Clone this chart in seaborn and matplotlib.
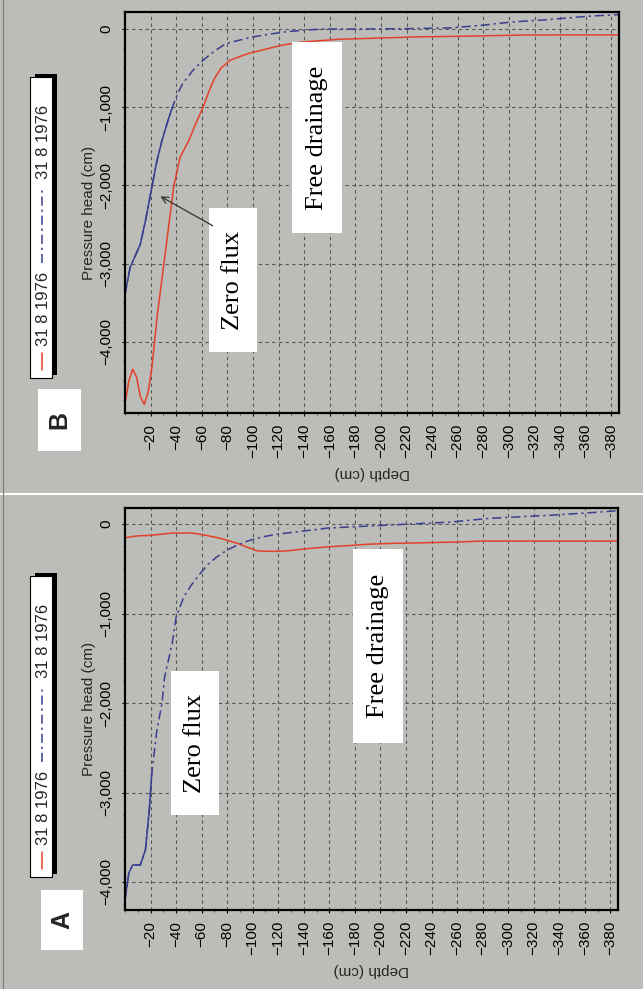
import matplotlib
matplotlib.use("Agg")
import matplotlib.pyplot as plt
import seaborn as sns
from matplotlib.patches import Rectangle, FancyArrowPatch
from matplotlib.lines import Line2D
from matplotlib.ticker import FuncFormatter, MultipleLocator

sns.set_theme(style="ticks")
plt.rcParams['font.family'] = ['Liberation Sans', 'DejaVu Sans']

# --- data (depth in cm, pressure head in cm) ---
legend_labels = ["31 8 1976", "31 8 1976"]
depth_ticks = [-20, -40, -60, -80, -100, -120, -140, -160, -180, -200, -220, -240,
               -260, -280, -300, -320, -340, -360, -380]
head_ticks = [0, -1000, -2000, -3000, -4000]

# panel B (top)
b_red_depth = [0, -3, -6, -9, -12, -15, -18, -21, -25, -30, -35, -38, -43, -50, -55, -61,
               -66, -70, -75, -82, -90, -97, -113, -123, -139, -168, -200, -229, -270,
               -311, -340, -386]
b_red_head = [-4790, -4500, -4350, -4450, -4700, -4800, -4650, -4330, -3690, -3050, -2410,
              -2020, -1640, -1420, -1220, -1000, -780, -630, -500, -400, -350, -310, -245,
              -205, -165, -130, -115, -100, -90, -77, -75, -75]
b_blue_depth = [0, -4, -8, -12, -16, -21, -25, -29, -33, -37, -41, -45, -53, -61, -70, -79,
                -90, -100, -113, -126, -140, -154, -180, -220, -255, -280, -302, -330, -363,
                -386]
b_blue_head = [-3390, -3050, -2900, -2750, -2450, -2020, -1680, -1420, -1200, -1000, -830,
               -700, -530, -400, -280, -185, -140, -100, -65, -35, -15, 0, 0, 5, 15, 50, 90,
               120, 165, 185]

# panel A (bottom)
a_red_depth = [0, -8, -20, -37, -53, -65, -75, -88, -96, -104, -115, -126, -136, -146, -158,
               -175, -190, -210, -229, -260, -280, -330, -386]
a_red_head = [-153, -134, -125, -100, -100, -130, -160, -215, -260, -300, -305, -300, -285,
              -270, -255, -240, -225, -215, -210, -200, -190, -190, -190]
a_blue_depth = [0, -3, -6, -12, -16, -19, -21, -25, -29, -31, -37, -40, -46, -52, -59, -65,
                -72, -80, -88, -97, -107, -120, -133, -158, -190, -222, -254, -286, -334,
                -362, -386]
a_blue_head = [-4200, -3900, -3810, -3810, -3640, -3200, -2780, -2300, -2000, -1710, -1330,
               -1040, -815, -680, -550, -450, -365, -290, -235, -185, -145, -110, -90, -45,
               -22, 0, 22, 65, 100, 125, 150]

W, H = 643, 989
BG = '#bcbcb8'
RED = '#e4402a'
BLUE = '#3b3f8f'
DASHDOT = (0, (6, 2.5, 1.5, 2.5))


def fx(px):
    return px / W


def fy(py):
    return 1 - py / H


def head_fmt(v, pos):
    if v == 0:
        return '0'
    return f"{v:,.0f}".replace('-', '\u2212')


def depth_fmt(v, pos):
    return f"{v:.0f}".replace('-', '\u2212')


def draw_panel(ax, red_d, red_h, blue_d, blue_h, n_solid, ylim, ax_w, ax_h):
    ax.set_facecolor('none')
    sns.lineplot(x=red_d, y=red_h, ax=ax, color=RED, lw=1.1, sort=False, estimator=None)
    sns.lineplot(x=blue_d, y=blue_h, ax=ax, color=BLUE, lw=1.1, linestyle=DASHDOT,
                 sort=False, estimator=None)
    # the densely sampled top part of the profile prints as an unbroken line
    sns.lineplot(x=blue_d[:n_solid], y=blue_h[:n_solid], ax=ax, color=BLUE, lw=1.1,
                 sort=False, estimator=None)
    ax.set_xlim(0, -386)
    ax.set_ylim(*ylim)
    ax.set_xticks(depth_ticks)
    ax.set_yticks(head_ticks)
    ax.xaxis.set_major_formatter(FuncFormatter(depth_fmt))
    ax.yaxis.set_major_formatter(FuncFormatter(head_fmt))
    ax.xaxis.set_minor_locator(MultipleLocator(10))
    ax.yaxis.set_minor_locator(MultipleLocator(250))
    ax.tick_params(axis='x', labelrotation=90, length=2.5, width=0.8, pad=5.5,
                   labelsize=11, colors='black')
    ax.tick_params(axis='y', labelrotation=90, length=2.5, width=0.8, pad=6,
                   labelsize=11, colors='black')
    ax.tick_params(which='minor', length=1.6, width=0.6, color='#333333')
    plt.setp(ax.get_yticklabels(), va='center')
    ax.set_axisbelow(True)
    ax.grid(True, which='major', ls=(0, (3, 3)), color='#555555', lw=0.8)
    for s in ax.spines.values():
        s.set_visible(True)
        s.set_linewidth(1.6)
        s.set_color('black')
    ax.set_xlabel('Depth (cm)', fontsize=11, rotation=180)
    ax.xaxis.set_label_coords(0.5, -60 / ax_h)
    ax.xaxis.label.set_va('center')
    ax.xaxis.label.set_ha('center')
    ax.set_ylabel('Pressure head (cm)', fontsize=11)
    ax.yaxis.set_label_coords(-36 / ax_w, 0.5)
    ax.yaxis.label.set_va('center')
    ax.yaxis.label.set_ha('center')


def white_box(fig, x0, y0, x1, y1, z=5):
    fig.add_artist(Rectangle((fx(x0), fy(y1)), (x1 - x0) / W, (y1 - y0) / H,
                             transform=fig.transFigure, fc='white', ec='none', zorder=z))


def box_text(fig, x0, y0, x1, y1, txt):
    white_box(fig, x0, y0, x1, y1)
    fig.text(fx((x0 + x1) / 2), fy((y0 + y1) / 2), txt, rotation=90, ha='center',
             va='center', fontsize=19, family=['Liberation Serif', 'DejaVu Serif'],
             color='black', zorder=6)


def draw_legend(fig, top):
    fig.add_artist(Rectangle((fx(35), fy(top - 3 + 301)), 22 / W, 301 / H,
                             transform=fig.transFigure, fc='black', ec='none', zorder=5))
    fig.add_artist(Rectangle((fx(30), fy(top + 301)), 22 / W, 301 / H,
                             transform=fig.transFigure, fc='white', ec='black', lw=0.8,
                             zorder=6))
    fig.add_artist(Line2D([fx(42), fx(42)], [fy(top + 293), fy(top + 276)], color=RED,
                          lw=1.1, transform=fig.transFigure, zorder=7))
    fig.text(fx(43), fy(top + 232), legend_labels[0], rotation=90, ha='center',
             va='center', fontsize=12, zorder=7)
    fig.add_artist(Line2D([fx(42), fx(42)], [fy(top + 186), fy(top + 110)], color=BLUE,
                          lw=1.1, ls=DASHDOT, transform=fig.transFigure, zorder=7))
    fig.text(fx(43), fy(top + 65), legend_labels[1], rotation=90, ha='center',
             va='center', fontsize=12, zorder=7)


def panel_letter(fig, x0, y0, x1, y1, letter):
    white_box(fig, x0, y0, x1, y1)
    fig.text(fx((x0 + x1) / 2), fy((y0 + y1) / 2), letter, rotation=90, ha='center',
             va='center', fontsize=18, fontweight='bold', zorder=6)


fig = plt.figure(figsize=(W / 100, H / 100), dpi=100, facecolor=BG)

# B: top panel
bw, bh = 619 - 125, 413 - 12
ax_b = fig.add_axes([fx(125), fy(413), bw / W, bh / H])
draw_panel(ax_b, b_red_depth, b_red_head, b_blue_depth, b_blue_head, 10,
           (-4910, 218), bw, bh)

# A: bottom panel
aw, ah = 618 - 125, 910 - 508
ax_a = fig.add_axes([fx(125), fy(910), aw / W, ah / H])
draw_panel(ax_a, a_red_depth, a_red_head, a_blue_depth, a_blue_head, 7,
           (-4313, 180), aw, ah)

# annotations
box_text(fig, 209, 208, 257, 352, 'Zero flux')
box_text(fig, 292, 42, 342, 233, 'Free drainage')
box_text(fig, 171, 671, 219, 815, 'Zero flux')
box_text(fig, 353, 549, 403, 743, 'Free drainage')
fig.add_artist(FancyArrowPatch(posA=(fx(215), fy(227)), posB=(fx(158), fy(195)),
                               transform=fig.transFigure, arrowstyle='->',
                               mutation_scale=12, color='#333333', lw=0.9, zorder=7))

draw_legend(fig, 77)
draw_legend(fig, 576)
panel_letter(fig, 38, 389, 81, 451, 'B')
panel_letter(fig, 41, 890, 83, 950, 'A')

# page edges of the scan
fig.add_artist(Line2D([0, 1], [fy(494), fy(494)], color='white', lw=1.5,
                      transform=fig.transFigure))
fig.add_artist(Line2D([fx(3), fx(3)], [0, 1], color='#7a7a7a', lw=0.8,
                      transform=fig.transFigure))

fig.savefig('out.png', dpi=100, facecolor=BG)
plt.close(fig)
